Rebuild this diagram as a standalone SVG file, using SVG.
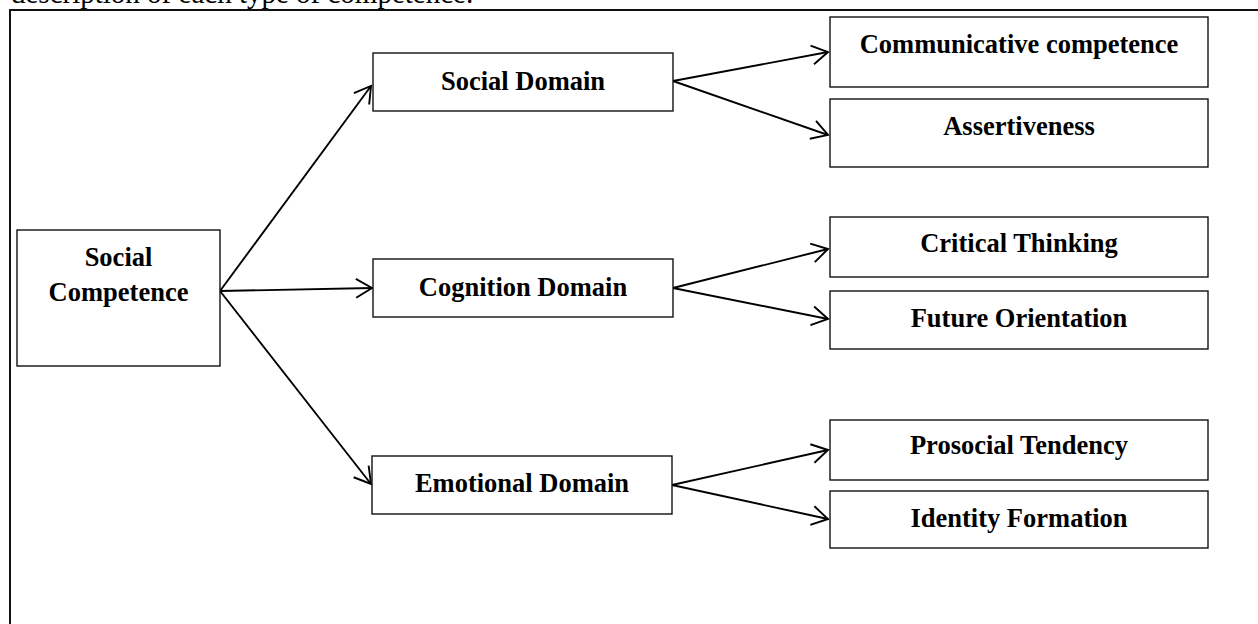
<svg xmlns="http://www.w3.org/2000/svg" width="1258" height="624" viewBox="0 0 1258 624">
<style>
  .box { fill: #ffffff; stroke: #111111; stroke-width: 1.4; }
  .lbl { font-family: "Liberation Serif", "Times New Roman", serif; font-weight: bold; font-size: 26.5px; fill: #000000; text-anchor: middle; }
  .body { font-family: "Liberation Serif", "Times New Roman", serif; font-size: 29px; fill: #000000; }
  .conn { fill: none; stroke: #000000; stroke-width: 1.9; marker-end: url(#arr); }
</style>
<defs>
  <marker id="arr" markerUnits="userSpaceOnUse" markerWidth="30" markerHeight="30" viewBox="-20 -15 30 30" refX="0" refY="0" orient="auto">
    <path d="M-16,-9.5 L0,0 L-16,9.5" fill="none" stroke="#000000" stroke-width="1.9"/>
  </marker>
</defs>
<rect x="0" y="0" width="1258" height="624" fill="#ffffff"/>
<text class="body" x="11" y="3">description of each type of competence.</text>
<path d="M10,624 V10 H1258" fill="none" stroke="#111111" stroke-width="2"/>

<g id="connectors">
  <line class="conn" x1="220" y1="291" x2="371" y2="86"/>
  <line class="conn" x1="220" y1="291" x2="372" y2="288"/>
  <line class="conn" x1="220" y1="291" x2="371" y2="484"/>
  <line class="conn" x1="673" y1="81" x2="828" y2="52"/>
  <line class="conn" x1="673" y1="81" x2="828" y2="135"/>
  <line class="conn" x1="673" y1="288" x2="828" y2="249"/>
  <line class="conn" x1="673" y1="288" x2="828" y2="319"/>
  <line class="conn" x1="672" y1="485" x2="828" y2="450"/>
  <line class="conn" x1="672" y1="485" x2="828" y2="519"/>
</g>

<g id="social-competence">
  <rect class="box" x="17" y="230" width="203" height="136"/>
  <text class="lbl" x="118.5" y="266">Social</text>
  <text class="lbl" x="118.5" y="301">Competence</text>
</g>
<g id="social-domain">
  <rect class="box" x="373" y="53" width="300" height="58"/>
  <text class="lbl" x="523" y="90">Social Domain</text>
</g>
<g id="cognition-domain">
  <rect class="box" x="373" y="259" width="300" height="58"/>
  <text class="lbl" x="523" y="296">Cognition Domain</text>
</g>
<g id="emotional-domain">
  <rect class="box" x="372" y="456" width="300" height="58"/>
  <text class="lbl" x="522" y="492">Emotional Domain</text>
</g>
<g id="communicative-competence">
  <rect class="box" x="830" y="17" width="378" height="70"/>
  <text class="lbl" x="1019" y="53">Communicative competence</text>
</g>
<g id="assertiveness">
  <rect class="box" x="830" y="99" width="378" height="68"/>
  <text class="lbl" x="1019" y="135">Assertiveness</text>
</g>
<g id="critical-thinking">
  <rect class="box" x="830" y="217" width="378" height="60"/>
  <text class="lbl" x="1019" y="252">Critical Thinking</text>
</g>
<g id="future-orientation">
  <rect class="box" x="830" y="291" width="378" height="58"/>
  <text class="lbl" x="1019" y="327">Future Orientation</text>
</g>
<g id="prosocial-tendency">
  <rect class="box" x="830" y="420" width="378" height="60"/>
  <text class="lbl" x="1019" y="454">Prosocial Tendency</text>
</g>
<g id="identity-formation">
  <rect class="box" x="830" y="491" width="378" height="57"/>
  <text class="lbl" x="1019" y="527">Identity Formation</text>
</g>
</svg>
